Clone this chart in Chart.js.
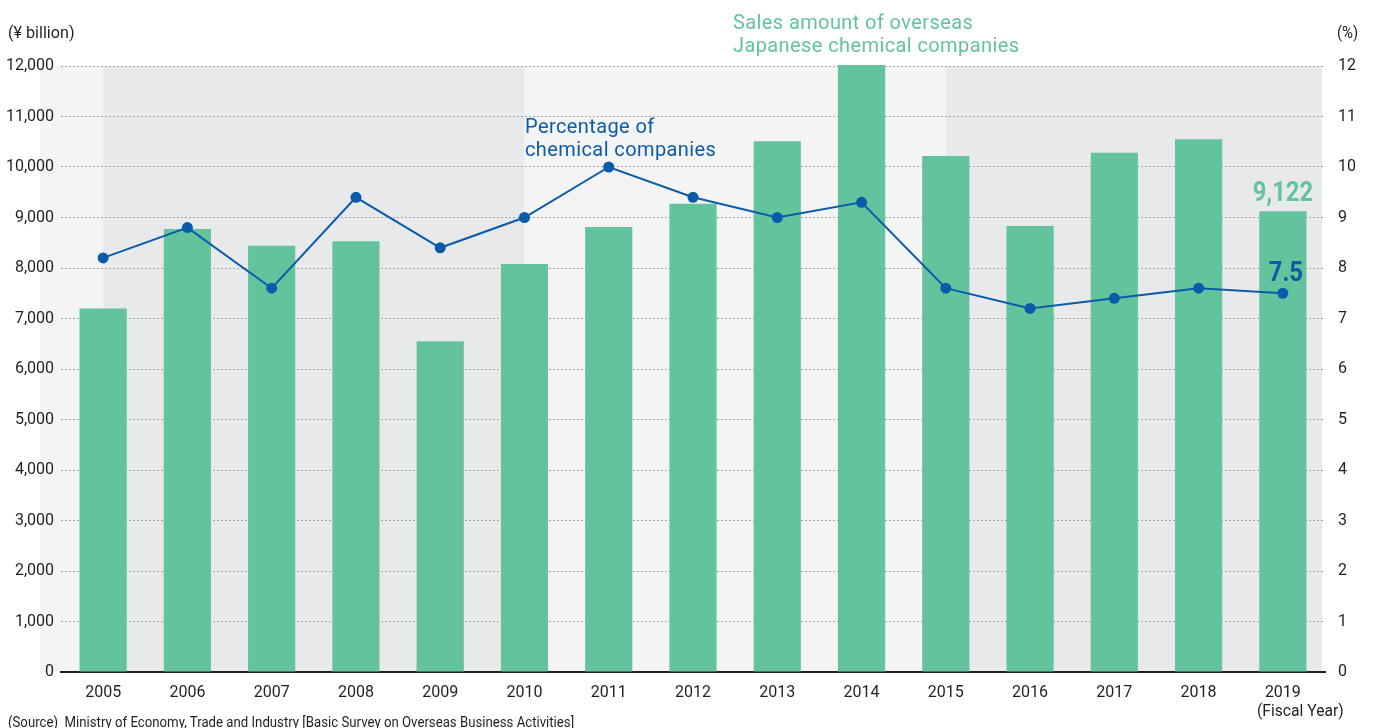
<!DOCTYPE html>
<html>
<head>
<meta charset="utf-8">
<script src="https://cdn.jsdelivr.net/npm/chart.js@4/dist/chart.umd.min.js"></script>
<style>
  html, body { margin: 0; padding: 0; background: #fff; }
  #wrap { position: relative; width: 1378px; height: 728px; overflow: hidden; }
  canvas { position: absolute; left: 0; top: 0; }
  .t { position: absolute; white-space: nowrap; line-height: 1; }
  .narrow { font-family: "Roboto", sans-serif; color: #231f20; transform-origin: 0 0; transform: scaleX(0.88); }
  .ann { font-family: "Roboto", "Liberation Sans", sans-serif; font-size: 20px; letter-spacing: 0.4px; line-height: 23px; }
</style>
</head>
<body>
<div id="wrap">
  <canvas id="c" width="1378" height="728"></canvas>
  <div class="t narrow" style="left:8px; top:24px; font-size:17px; transform: scaleX(0.95);">(¥ billion)</div>
  <div class="t narrow" style="left:1337px; top:24px; font-size:17px;">(%)</div>
  <div class="t ann" style="left:733px; top:11px; color:#62c39c;">Sales amount of overseas<br>Japanese chemical companies</div>
  <div class="t ann" style="left:525px; top:115px; color:#0b5bab;">Percentage of<br>chemical companies</div>
  <div class="t narrow" style="left:1257px; top:702px; font-size:17px; transform: scaleX(0.92);">(Fiscal Year)</div>
  <div class="t narrow" style="left:8px; top:715px; font-size:15px;">(Source)&nbsp;&nbsp;Ministry of Economy, Trade and Industry [Basic Survey on Overseas Business Activities]</div>
</div>
<script>
const years = ["2005","2006","2007","2008","2009","2010","2011","2012","2013","2014","2015","2016","2017","2018","2019"];
const salesAmount = [7200, 8770, 8440, 8530, 6550, 8080, 8810, 9270, 10510, 12020, 10220, 8830, 10280, 10550, 9122];
const percentage = [8.2, 8.8, 7.6, 9.4, 8.4, 9.0, 10.0, 9.4, 9.0, 9.3, 7.6, 7.2, 7.4, 7.6, 7.5];
const leftTicks = [0,1000,2000,3000,4000,5000,6000,7000,8000,9000,10000,11000,12000];
const rightTicks = [0,1,2,3,4,5,6,7,8,9,10,11,12];
const bandBreaks = ["2005","2010","2015"];

const GREEN = "#62c39c";
const BLUE = "#0b5bab";
const FONT = '"Roboto", sans-serif';

const bandsPlugin = {
  id: "bands",
  beforeDraw(chart) {
    const { ctx, chartArea, scales } = chart;
    const x = scales.x, y = scales.y;
    const top = y.getPixelForValue(12000), bottom = y.getPixelForValue(0);
    const x0 = x.getPixelForValue(years.indexOf(bandBreaks[0]));
    const x1 = x.getPixelForValue(years.indexOf(bandBreaks[1]));
    const x2 = x.getPixelForValue(years.indexOf(bandBreaks[2]));
    const left = chartArea.left - 21, right = chartArea.right - 3;
    ctx.save();
    ctx.fillStyle = "#f4f4f4";
    ctx.fillRect(left, top, x0 - left, bottom - top);
    ctx.fillRect(x1, top, x2 - x1, bottom - top);
    ctx.fillStyle = "#e8e9eb";
    ctx.fillRect(x0, top, x1 - x0, bottom - top);
    ctx.fillRect(x2, top, right - x2, bottom - top);
    ctx.restore();
  },
  afterDatasetsDraw(chart) {
    const { ctx, scales } = chart;
    const i = years.length - 1;
    const xp = scales.x.getPixelForValue(i);
    ctx.save();
    ctx.textAlign = "center";
    ctx.textBaseline = "alphabetic";
    ctx.font = 'bold 28px ' + FONT;
    ctx.fillStyle = GREEN;
    ctx.translate(xp, scales.y.getPixelForValue(salesAmount[i]) - 10);
    ctx.scale(0.85, 1);
    ctx.fillText(salesAmount[i].toLocaleString("en-US"), 0, 0);
    ctx.restore();
    ctx.save();
    ctx.textAlign = "center";
    ctx.font = 'bold 28px ' + FONT;
    ctx.fillStyle = BLUE;
    ctx.translate(xp + 3, scales.y1.getPixelForValue(percentage[i]) - 12);
    ctx.scale(0.85, 1);
    ctx.fillText(percentage[i].toFixed(1), 0, 0);
    ctx.restore();
  }
};

new Chart(document.getElementById("c"), {
  plugins: [bandsPlugin],
  data: {
    labels: years,
    datasets: [
      {
        type: "line",
        data: percentage,
        yAxisID: "y1",
        borderColor: BLUE,
        backgroundColor: BLUE,
        borderWidth: 2,
        pointRadius: 5.5,
        pointBackgroundColor: BLUE,
        pointBorderWidth: 0,
        tension: 0,
        order: 0
      },
      {
        type: "bar",
        data: salesAmount,
        yAxisID: "y",
        backgroundColor: GREEN,
        borderWidth: 0,
        categoryPercentage: 1,
        barPercentage: 0.56,
        clip: false,
        order: 1
      }
    ]
  },
  options: {
    responsive: false,
    animation: false,
    devicePixelRatio: 1,
    layout: { padding: { top: 66, left: 0, right: 0, bottom: 0 } },
    plugins: { legend: { display: false }, tooltip: { enabled: false } },
    scales: {
      x: {
        grid: { display: false, drawTicks: false },
        border: { display: true, color: "#231f20", width: 2 },
        ticks: { color: "#231f20", font: { family: FONT, size: 16 }, padding: 11, maxRotation: 0 },
        afterFit(s) { s.height = 56; }
      },
      y: {
        position: "left",
        min: 0, max: 12000,
        afterBuildTicks(s) { s.ticks = leftTicks.map(v => ({ value: v })); },
        grid: { color: "#a4a4a4", lineWidth: 1, drawTicks: false },
        border: { display: false, dash: [2, 2] },
        ticks: { color: "#231f20", font: { family: FONT, size: 16 }, padding: 7,
                 callback: v => v.toLocaleString("en-US") },
        afterFit(s) { s.width = 61; }
      },
      y1: {
        position: "right",
        min: 0, max: 12,
        afterBuildTicks(s) { s.ticks = rightTicks.map(v => ({ value: v })); },
        grid: { display: false, drawTicks: false },
        border: { display: false },
        ticks: { color: "#231f20", font: { family: FONT, size: 16 }, padding: 13 },
        afterFit(s) { s.width = 53; }
      }
    }
  }
});
</script>
</body>
</html>
